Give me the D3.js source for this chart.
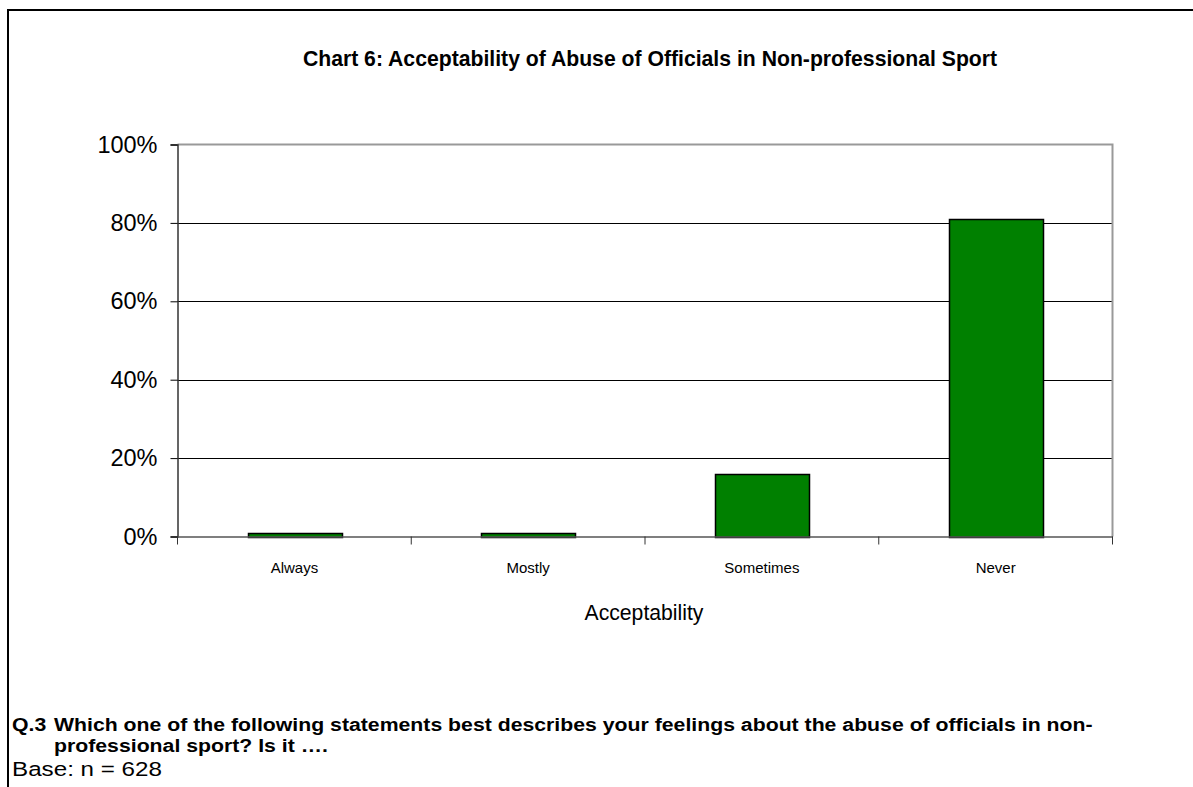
<!DOCTYPE html>
<html><head><meta charset="utf-8">
<script src="https://cdn.jsdelivr.net/npm/d3@7/dist/d3.min.js"></script>
<style>body{margin:0;background:#fff}svg{display:block}text{font-family:"Liberation Sans",Arial,sans-serif}</style>
</head><body>
<svg id="c" width="1193" height="787"></svg>
<script>
const categories = ["Always","Mostly","Sometimes","Never"];
const values = [1, 1, 16, 81];
const yTicks = [0, 20, 40, 60, 80, 100];
const titleText = "Chart 6: Acceptability of Abuse of Officials in Non-professional Sport";
const xAxisTitle = "Acceptability";
const footNum = "Q.3";
const footLines = ["Which one of the following statements best describes your feelings about the abuse of officials in non-", "professional sport? Is it \u2026."];
const baseText = "Base: n = 628";

const svg = d3.select("#c");
const m = {l:177.5, r:1112.5, t:144.5, b:536.5};
const x = d3.scaleBand().domain(categories).range([m.l, m.r]).paddingInner(0.6).paddingOuter(0.3);
const xb = d3.scaleBand().domain(categories).range([m.l, m.r]);
const y = d3.scaleLinear().domain([0,100]).range([m.b, m.t]);

// outer frame
svg.append("path").attr("d","M8,800 V10 H1200").attr("fill","none").attr("stroke","#000").attr("stroke-width",2);

// title
svg.append("text").attr("x",650).attr("y",66).attr("text-anchor","middle")
  .attr("font-size",21.2).attr("font-weight","bold").text(titleText);

// gridlines
svg.append("g").selectAll("line").data(yTicks.filter(d=>d>0 && d<100)).join("line")
  .attr("x1",m.l).attr("x2",m.r).attr("y1",d=>Math.round(y(d))+0.5).attr("y2",d=>Math.round(y(d))+0.5)
  .attr("stroke","#000").attr("stroke-width",1);

// plot border top/right
svg.append("path").attr("d",`M${m.l},${m.t} H${m.r} V${m.b}`).attr("fill","none").attr("stroke","#999").attr("stroke-width",2);

// bars
svg.append("g").selectAll("rect").data(values).join("rect")
  .attr("x",(d,i)=>Math.round(x(categories[i]))+0.5)
  .attr("y",d=>Math.round(y(d))+0.5)
  .attr("width",Math.round(x.bandwidth()))
  .attr("height",d=>Math.round(y(0))-Math.round(y(d)))
  .attr("fill","#008000").attr("stroke","#000").attr("stroke-width",1.5);

// y axis
const ya = svg.append("g").attr("transform",`translate(${m.l},0)`)
  .call(d3.axisLeft(y).tickValues(yTicks).tickFormat(d=>d+"%").tickSize(7).tickPadding(13));
ya.select(".domain").attr("stroke","#333").attr("stroke-width",1.5);
ya.selectAll(".tick line").attr("stroke","#000");
ya.selectAll("text").attr("font-size",23.5).attr("fill","#000").attr("font-family","Liberation Sans, Arial, sans-serif");

// x axis
const xa = svg.append("g").attr("transform",`translate(0,${m.b})`)
  .call(d3.axisBottom(xb).tickSize(0).tickPadding(26));
xa.select(".domain").attr("stroke","#555").attr("stroke-width",1.5);
xa.selectAll("text").attr("font-size",15).attr("fill","#000").attr("font-family","Liberation Sans, Arial, sans-serif");
// category separator ticks
svg.append("g").selectAll("line").data(categories.concat(["_end"])).join("line")
  .attr("x1",(d,i)=>i<4? xb(d): m.r).attr("x2",(d,i)=>i<4? xb(d): m.r)
  .attr("y1",m.b).attr("y2",m.b+8).attr("stroke","#333").attr("stroke-width",1);

// x axis title
svg.append("text").attr("x",644).attr("y",620).attr("text-anchor","middle").attr("font-size",21.2).text(xAxisTitle);

// footer (text drawn slightly widened, as in the reference)
const stretch = 1.18;
function footText(tx, ty, size, bold, str){
  const t = svg.append("text").attr("x",tx).attr("y",ty).attr("font-size",size)
    .attr("font-weight", bold ? "bold" : "normal").text(str);
  const w = t.node().getComputedTextLength();
  t.attr("textLength", w*stretch).attr("lengthAdjust","spacingAndGlyphs");
  return t;
}
footText(12, 731, 18, true, footNum);
footText(54, 731, 18, true, footLines[0]);
footText(54, 752, 18, true, footLines[1]);
footText(12, 776, 20.5, false, baseText);
</script>
</body></html>
